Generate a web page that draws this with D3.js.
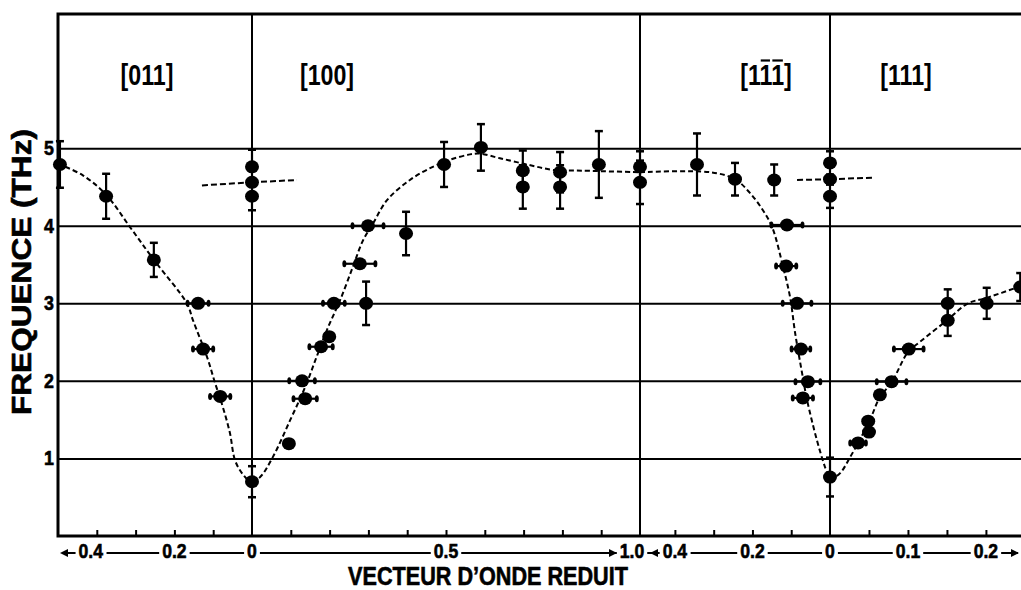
<!DOCTYPE html>
<html><head><meta charset="utf-8">
<script src="https://cdn.jsdelivr.net/npm/d3@7"></script>
<style>
body{margin:0;background:#fff;}
svg{display:block;}
text{font-family:"Liberation Sans","DejaVu Sans",sans-serif;}
</style></head>
<body><svg id="c" width="1021" height="590"></svg>
<script>
// ---------------- data ----------------
const yTicks = [1, 2, 3, 4, 5];
const panelNames = ["[011]", "[100]", "[111]", "[111]"];
const panelBars = [[], [], [2, 3], []]; // character indices carrying an overbar
const p1Domain = [0.5, 0], p2Domain = [0, 1], p3Domain = [0.49, 0], p4Domain = [0, 0.245];
const p1Ticks = [0.1, 0.2, 0.3, 0.4];
const p2Ticks = [0.1, 0.2, 0.3, 0.4, 0.5, 0.6, 0.7, 0.8, 0.9];
const p3Ticks = [0.1, 0.2, 0.3, 0.4];
const p4Ticks = [0.05, 0.1, 0.15, 0.2];
const p1Labels = [0.4, 0.2], p2Labels = [0, 0.5, 1.0], p3Labels = [0.4, 0.2, 0], p4Labels = [0.1, 0.2];

// measured points: q (reduced wave vector), f (THz), ef (vertical error), eq (horizontal error)
const p1Points = [
  {q:0.495,f:4.79,ef:0.30},{q:0.376,f:4.38,ef:0.29},{q:0.253,f:3.56,ef:0.22},
  {q:0.139,f:3.00,eq:0.027},{q:0.126,f:2.41,eq:0.026},{q:0.082,f:1.80,eq:0.026}
];
const p2Points = [
  {q:0,f:0.70,ef:0.20},{q:0,f:4.76,ef:0.22},{q:0,f:4.56},{q:0,f:4.38,ef:0.18},
  {q:0.095,f:1.19},{q:0.137,f:1.77,eq:0.030},{q:0.129,f:2.00,eq:0.033},
  {q:0.178,f:2.44,eq:0.030},{q:0.199,f:2.57},{q:0.211,f:3.00,eq:0.028},
  {q:0.294,f:3.00,ef:0.28},{q:0.278,f:3.51,eq:0.040},{q:0.299,f:4.00,eq:0.040},
  {q:0.397,f:3.90,ef:0.28},{q:0.495,f:4.79,ef:0.29},{q:0.590,f:5.01,ef:0.30},
  {q:0.698,f:4.71,ef:0.26},{q:0.698,f:4.50,ef:0.28},
  {q:0.794,f:4.69,ef:0.26},{q:0.794,f:4.50,ef:0.28},
  {q:0.894,f:4.79,ef:0.43},{q:1.0,f:4.76,ef:0.20},{q:1.0,f:4.56,ef:0.28}
];
const p3Points = [
  {q:0.343,f:4.79,ef:0.40},{q:0.245,f:4.60,ef:0.21},{q:0.144,f:4.59,ef:0.20},
  {q:0.111,f:4.01,eq:0.040},{q:0.113,f:3.48,eq:0.026},{q:0.085,f:3.00,eq:0.037},
  {q:0.075,f:2.41,eq:0.024},{q:0.057,f:1.99,eq:0.032},{q:0.070,f:1.78,eq:0.026},
  {q:0,f:4.81,ef:0.15},{q:0,f:4.60},{q:0,f:4.38,ef:0.15},{q:0,f:0.76,ef:0.25}
];
const p4Points = [
  {q:0.036,f:1.20,eq:0.010},{q:0.049,f:1.48},{q:0.050,f:1.34},{q:0.064,f:1.82},
  {q:0.079,f:1.99,eq:0.019},{q:0.101,f:2.41,eq:0.019},
  {q:0.151,f:3.00,ef:0.18},{q:0.151,f:2.78,ef:0.20},{q:0.201,f:3.00,ef:0.20},
  {q:0.244,f:3.21,ef:0.18}
];

// fitted dashed curves [q, f]
const p1Curve = [[0.5,4.80],[0.436,4.65],[0.376,4.40],[0.314,3.98],[0.253,3.56],[0.168,3.00],[0.152,2.78],[0.116,2.31],[0.095,1.97],[0.075,1.66],[0.057,1.33],[0.044,0.98],[0.026,0.81],[0.005,0.70],[0,0.70]];
const p2Curve = [[0,0.70],[0.021,0.76],[0.054,1.02],[0.098,1.49],[0.137,1.92],[0.168,2.33],[0.196,2.69],[0.227,3.04],[0.260,3.47],[0.286,3.81],[0.312,4.03],[0.348,4.33],[0.407,4.59],[0.466,4.76],[0.510,4.85],[0.562,4.92],[0.588,4.93],[0.639,4.87],[0.709,4.79],[0.776,4.72],[0.853,4.71],[1.0,4.69]];
const p3Curve = [[0.49,4.69],[0.309,4.69],[0.245,4.60],[0.206,4.42],[0.173,4.20],[0.149,3.98],[0.121,3.47],[0.103,3.08],[0.090,2.62],[0.072,2.10],[0.059,1.75],[0.034,1.24],[0.013,0.89],[0,0.72]];
const p4Curve = [[0,0.72],[0.013,0.81],[0.026,1.02],[0.036,1.20],[0.051,1.49],[0.064,1.79],[0.079,1.98],[0.100,2.37],[0.115,2.50],[0.150,2.78],[0.177,3.00],[0.201,3.07],[0.244,3.22]];
const p1Optic = [[0.129,4.52],[0,4.56]];
const p2Optic = [[0,4.56],[0.116,4.59]];
const p3Optic = [[0.085,4.59],[0,4.60]];
const p4Optic = [[0,4.60],[0.057,4.62]];

// ---------------- layout ----------------
const svg = d3.select("#c");
const L = 58, T = 14, B = 536, R = 1021;
const bounds = [L, 252, 640, 830, R];
const y = d3.scaleLinear().domain([0, 6.73]).range([B, T]);
const xs = [
  d3.scaleLinear().domain(p1Domain).range([bounds[0], bounds[1]]),
  d3.scaleLinear().domain(p2Domain).range([bounds[1], bounds[2]]),
  d3.scaleLinear().domain(p3Domain).range([bounds[2], bounds[3]]),
  d3.scaleLinear().domain(p4Domain).range([bounds[3], bounds[4]])
];
const points = [p1Points, p2Points, p3Points, p4Points];
const curves = [p1Curve, p2Curve, p3Curve, p4Curve];
const optics = [p1Optic, p2Optic, p3Optic, p4Optic];
const ticks = [p1Ticks, p2Ticks, p3Ticks, p4Ticks];

// condensed text helper: horizontally scaled real text
function ctext(parent, x, yy, str, size, weight, sx, anchor, rot) {
  const g = parent.append("g")
    .attr("transform", `translate(${x},${yy})${rot ? " rotate(" + rot + ")" : ""} scale(${sx},1)`);
  return g.append("text").attr("text-anchor", anchor || "middle")
    .attr("font-size", size).attr("font-weight", weight).attr("fill", "#000").text(str);
}

// grid lines (horizontal)
svg.append("g").attr("transform", `translate(${L},0)`)
  .call(d3.axisLeft(y).tickValues(yTicks).tickSize(-(R - L)).tickFormat(""))
  .call(g => g.select(".domain").remove())
  .call(g => g.selectAll("line").attr("stroke", "#000").attr("stroke-width", 2));
// y tick labels
const ya = svg.append("g");
yTicks.forEach(v => ctext(ya, L - 4, y(v) + 7, d3.format("d")(v), 21, "bold", 0.85, "end")
  .attr("stroke", "#000").attr("stroke-width", 0.6));

// vertical separators
svg.append("g").selectAll("line").data(bounds.slice(1, 4)).join("line")
  .attr("x1", d => d).attr("x2", d => d).attr("y1", T).attr("y2", B)
  .attr("stroke", "#000").attr("stroke-width", 2);

// frame
svg.append("path").attr("d", `M${R},${T}H${L}V${B}H${R}`)
  .attr("fill", "none").attr("stroke", "#000").attr("stroke-width", 3);

// bottom ticks
xs.forEach((x, i) => {
  svg.append("g").attr("transform", `translate(0,${B - 1})`)
    .call(d3.axisTop(x).tickValues(ticks[i]).tickSize(5).tickFormat(""))
    .call(g => g.select(".domain").remove())
    .call(g => g.selectAll("line").attr("stroke", "#000").attr("stroke-width", 2));
});

// panel labels
const pl = svg.append("g");
panelNames.forEach((name, i) => {
  const cx = [147, 327, 766, 906][i];
  const sx = 0.8;
  const t = ctext(pl, cx, 85, name, 29, "bold", sx, "middle");
  panelBars[i].forEach(k => {
    const ext = t.node().getExtentOfChar(k);
    pl.append("line")
      .attr("x1", cx + (ext.x + 1.5) * sx).attr("x2", cx + (ext.x + ext.width - 1.5) * sx)
      .attr("y1", 85 + ext.y + 2).attr("y2", 85 + ext.y + 2)
      .attr("stroke", "#000").attr("stroke-width", 2.2);
  });
});

// curves
const line = d3.line().curve(d3.curveCatmullRom.alpha(0.5));
xs.forEach((x, i) => {
  svg.append("path").attr("d", line(curves[i].map(d => [x(d[0]), y(d[1])])))
    .attr("fill", "none").attr("stroke", "#000").attr("stroke-width", 2)
    .attr("stroke-dasharray", "5,3");
  svg.append("path").attr("d", line(optics[i].map(d => [x(d[0]), y(d[1])])))
    .attr("fill", "none").attr("stroke", "#000").attr("stroke-width", 2)
    .attr("stroke-dasharray", "6,3");
});

// points with error bars
xs.forEach((x, i) => {
  const g = svg.append("g");
  points[i].forEach(p => {
    const px = x(p.q), py = y(p.f);
    if (p.ef) {
      const y1 = y(p.f + p.ef), y2 = y(p.f - p.ef);
      g.append("line").attr("x1", px).attr("x2", px).attr("y1", y1).attr("y2", y2)
        .attr("stroke", "#000").attr("stroke-width", 2.2);
      [y1, y2].forEach(yy => g.append("line").attr("x1", px - 4).attr("x2", px + 4)
        .attr("y1", yy).attr("y2", yy).attr("stroke", "#000").attr("stroke-width", 2.5));
    }
    if (p.eq) {
      const xa = x(p.q - p.eq), xb = x(p.q + p.eq);
      g.append("line").attr("x1", xa).attr("x2", xb).attr("y1", py).attr("y2", py)
        .attr("stroke", "#000").attr("stroke-width", 2.2);
      [xa, xb].forEach(xx => g.append("ellipse").attr("cx", xx).attr("cy", py)
        .attr("rx", 2).attr("ry", 3.5).attr("fill", "#000"));
    }
    g.append("ellipse").attr("cx", px).attr("cy", py).attr("rx", 7).attr("ry", 6.5).attr("fill", "#000");
  });
});

// x label row
const rowY = 553;
svg.append("line").attr("x1", L + 4).attr("x2", R - 3).attr("y1", rowY).attr("y2", rowY)
  .attr("stroke", "#000").attr("stroke-width", 2);
const lab = [];
p1Labels.forEach(v => lab.push({x: xs[0](v) - (v === 0.4 ? 6 : 0), t: String(v)}));
p2Labels.forEach(v => lab.push({x: xs[1](v) - (v === 1 ? 8 : 0), t: v === 1 ? "1.0" : String(v)}));
p3Labels.forEach(v => lab.push({x: xs[2](v), t: String(v)}));
p4Labels.forEach(v => lab.push({x: xs[3](v), t: String(v)}));
const lr = svg.append("g");
const lsx = 0.88, lbase = 558;
lab.forEach(d => {
  const bg = lr.append("rect");
  const t = ctext(lr, d.x, lbase, d.t, 20, "bold", lsx, "middle")
    .attr("stroke", "#000").attr("stroke-width", 0.6);
  const bb = t.node().getBBox();
  bg.attr("x", d.x + bb.x * lsx - 3).attr("width", bb.width * lsx + 6)
    .attr("y", rowY - 3).attr("height", 6).attr("fill", "#fff");
});
// arrows
const arrows = [
  {x: L + 2, dir: -1}, {x: xs[1](1) - 23, dir: 1}, {x: xs[1](1) + 10, dir: -1}, {x: R - 2, dir: 1}
];
svg.append("g").selectAll("path").data(arrows).join("path")
  .attr("d", d => `M${d.x},${rowY}l${-d.dir * 8},-4v8z`).attr("fill", "#000");

// axis titles (fitted to the reference lengths)
const tt = ctext(svg, 488, 584.5, "VECTEUR D\u2019ONDE REDUIT", 25, "bold", 1, "middle")
  .attr("stroke", "#000").attr("stroke-width", 0.6);
tt.node().parentNode.setAttribute("transform", `translate(488,584.5) scale(${280 / tt.node().getComputedTextLength()},1)`);
const yt = ctext(svg, 31, 272, "FREQUENCE (THz)", 27, "bold", 1, "middle", -90)
  .attr("stroke", "#000").attr("stroke-width", 0.6);
yt.node().parentNode.setAttribute("transform", `translate(31,272) rotate(-90) scale(${286 / yt.node().getComputedTextLength()},1)`);
</script></body></html>
